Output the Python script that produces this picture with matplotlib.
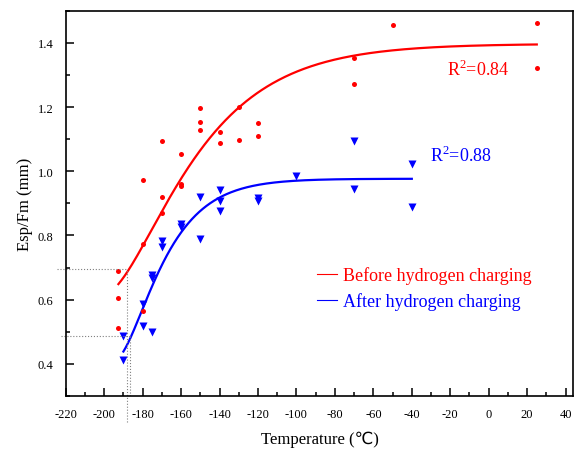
import numpy as np
import matplotlib
matplotlib.use('Agg')
from matplotlib import pyplot as plt
from matplotlib.ticker import MultipleLocator

plt.rcParams['font.family'] = ['Liberation Serif', 'DejaVu Sans']
plt.rcParams['axes.unicode_minus'] = False
plt.rcParams['mathtext.fontset'] = 'custom'
plt.rcParams['mathtext.rm'] = 'Liberation Serif'

# before hydrogen charging (red dots)
before_t = [-193, -193, -193, -180, -180, -180, -170, -170, -170, -160, -160, -160,
            -150, -150, -150, -140, -140, -130, -130, -120, -120, -70, -70, -50, 25, 25]
before_y = [0.688, 0.605, 0.512, 0.566, 0.972, 0.772, 1.095, 0.920, 0.871, 1.055, 0.960, 0.955,
            1.198, 1.154, 1.129, 1.121, 1.088, 1.199, 1.097, 1.149, 1.110, 1.353, 1.272, 1.456, 1.463, 1.322]

# after hydrogen charging (blue triangles)
after_t = [-190, -190, -180, -180, -175, -175, -175, -170, -170, -160, -160, -150, -150,
           -140, -140, -140, -120, -120, -100, -70, -70, -40, -40]
after_y = [0.488, 0.413, 0.587, 0.517, 0.499, 0.678, 0.666, 0.782, 0.765, 0.835, 0.827, 0.919, 0.788,
           0.942, 0.907, 0.876, 0.916, 0.908, 0.985, 1.093, 0.944, 1.023, 0.888]

# points on the fitted curves
fit_before_t = [-192.6, -180, -170, -160, -150, -140, -130, -115, -98, -70, -46, -12, 25]
fit_before_y = [0.648, 0.768, 0.876, 0.977, 1.065, 1.135, 1.198, 1.268, 1.320, 1.356, 1.377, 1.390, 1.397]
fit_after_t = [-190, -180, -170, -160, -150, -140, -130, -120, -103, -70, -40]
fit_after_y = [0.438, 0.574, 0.706, 0.806, 0.878, 0.921, 0.944, 0.957, 0.970, 0.975, 0.975]

r2_before = 'R$^2$=0.84'
r2_after = 'R$^2$=0.88'

# dotted guide lines (temperature, value)
ref_before = (-188.3, 0.697)
ref_after = (-186.6, 0.487)


def expdec2(x, y):
    # y = y0 + A1*exp(-(x+200)/t1) + A2*exp(-(x+200)/t2), smooth curve through the read points
    x = np.asarray(x, float)
    y = np.asarray(y, float)
    best = None
    for t1 in np.linspace(5, 120, 70):
        for t2 in np.linspace(t1 + 5, 400, 90):
            M = np.column_stack([np.ones_like(x), np.exp(-(x + 200) / t1), np.exp(-(x + 200) / t2)])
            coef = np.linalg.lstsq(M, y, rcond=None)[0]
            sse = np.sum((M @ coef - y) ** 2)
            if best is None or sse < best[0]:
                best = (sse, coef, t1, t2)
    _, c, t1, t2 = best
    return lambda xx: c[0] + c[1] * np.exp(-(xx + 200) / t1) + c[2] * np.exp(-(xx + 200) / t2)


fig = plt.figure(figsize=(5.74, 4.52), dpi=100)
ax = fig.add_axes([0.1145, 0.1217, 0.8843, 0.8523])

fb = expdec2(fit_before_t, fit_before_y)
fa = expdec2(fit_after_t, fit_after_y)
xb = np.linspace(fit_before_t[0], fit_before_t[-1], 400)
xa = np.linspace(fit_after_t[0], fit_after_t[-1], 400)
ax.plot(xb, fb(xb), color='red', lw=1.6, label='Before hydrogen charging')
ax.plot(xa, fa(xa), color='blue', lw=1.6, label='After hydrogen charging')

ax.plot(before_t, before_y, 'o', color='red', ms=3.6, mec='none')
ax.plot(after_t, after_y, 'v', color='blue', ms=5.2, mec='none')

# guide lines
ax.plot([-224.5, ref_before[0]], [ref_before[1]] * 2, ls=':', color='gray', lw=0.8, clip_on=False)
ax.plot([ref_before[0]] * 2, [0.22, ref_before[1]], ls=':', color='gray', lw=0.8, clip_on=False)
ax.plot([-222.4, ref_after[0]], [ref_after[1]] * 2, ls=':', color='gray', lw=0.8, clip_on=False)
ax.plot([ref_after[0]] * 2, [0.3, ref_after[1]], ls=':', color='gray', lw=0.8)

ax.text(-21.7, 1.319, r2_before, color='red', fontsize=13, va='center')
ax.text(-30.6, 1.05, r2_after, color='blue', fontsize=13, va='center')

ax.set_xlim(-220, 44)
ax.set_ylim(0.3, 1.5)
ax.xaxis.set_major_locator(MultipleLocator(20))
ax.xaxis.set_minor_locator(MultipleLocator(10))
ax.set_yticks([0.4, 0.6, 0.8, 1.0, 1.2, 1.4])
ax.yaxis.set_minor_locator(MultipleLocator(0.1))
ax.tick_params(which='both', direction='in', labelsize=9, width=1.1)
ax.tick_params(which='major', length=6)
ax.tick_params(which='minor', length=3)
ax.tick_params(axis='x', which='major', pad=9)
ax.tick_params(axis='y', which='major', pad=9)
for s in ax.spines.values():
    s.set_linewidth(1.2)

ax.set_xlabel('Temperature (℃)', fontsize=12, labelpad=7)
ax.set_ylabel('Esp/Fm (mm)', fontsize=12, labelpad=3)

leg = ax.legend(loc='upper left', bbox_to_anchor=(0.495, 0.337), frameon=False,
                fontsize=13, handlelength=1.1, handletextpad=0.35, labelspacing=0.45,
                borderpad=0, borderaxespad=0, labelcolor='linecolor')
for h in leg.get_lines():
    h.set_linewidth(0.8)

fig.savefig('out.png', dpi=100)
